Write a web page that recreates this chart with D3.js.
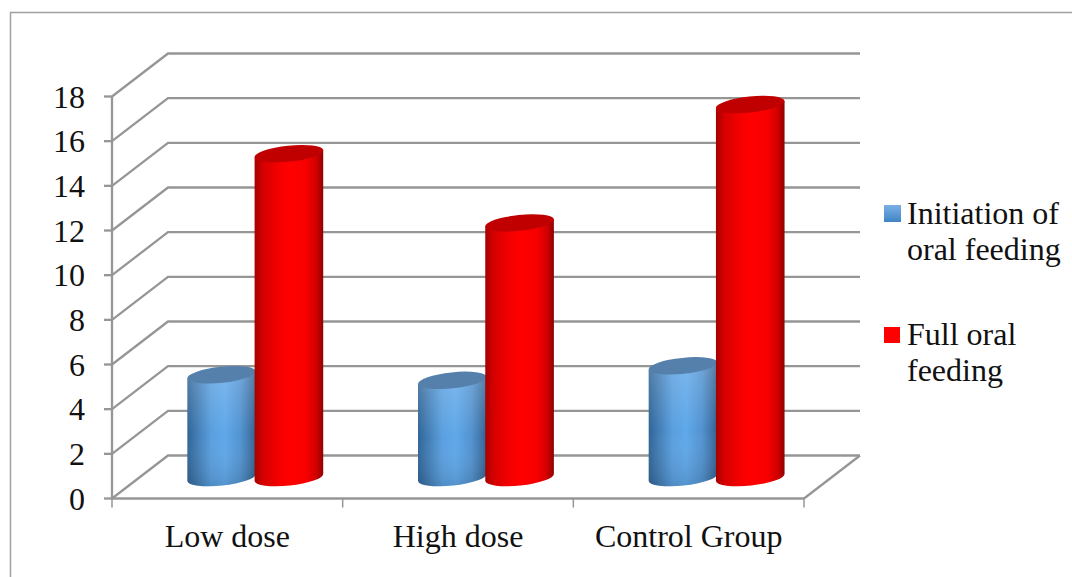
<!DOCTYPE html>
<html><head><meta charset="utf-8">
<script src="https://cdn.jsdelivr.net/npm/d3@7"></script>
<style>html,body{margin:0;padding:0;background:#fff}svg{display:block}text{font-family:"Liberation Serif",serif;fill:#111}</style>
</head><body><div id="chart"></div>
<script>
const categories = ["Low dose", "High dose", "Control Group"];
const seriesNames = ["Initiation of oral feeding", "Full oral feeding"];
const initiation = [4.6, 4.35, 5.0];
const fullOral = [14.5, 11.4, 16.7];
const yTicks = [0, 2, 4, 6, 8, 10, 12, 14, 16, 18];
const legendLines = [["Initiation of", "oral feeding"], ["Full oral", "feeding"]];

const W = 1072, H = 577;
const svg = d3.select("#chart").append("svg").attr("width", W).attr("height", H);
const defs = svg.append("defs");

function hGrad(id, stops) {
  const g = defs.append("linearGradient").attr("id", id).attr("x1", 0).attr("x2", 1).attr("y1", 0).attr("y2", 0);
  stops.forEach(s => g.append("stop").attr("offset", s[0]).attr("stop-color", s[1]).attr("stop-opacity", s[2] === undefined ? 1 : s[2]));
}
function vGrad(id, stops) {
  const g = defs.append("linearGradient").attr("id", id).attr("x1", 0).attr("x2", 0).attr("y1", 0).attr("y2", 1);
  stops.forEach(s => g.append("stop").attr("offset", s[0]).attr("stop-color", s[1]).attr("stop-opacity", s[2] === undefined ? 1 : s[2]));
}
hGrad("redSide", [[0, "#a50000"], [0.12, "#d40000"], [0.35, "#f40000"], [0.5, "#ff0000"], [0.75, "#f80000"], [0.9, "#d00000"], [1, "#8f0000"]]);
hGrad("blueSide", [[0, "#2f6496"], [0.12, "#3f79af"], [0.35, "#5a9fdf"], [0.55, "#5fa8ea"], [0.78, "#5292cf"], [0.92, "#3f74a8"], [1, "#33608c"]]);
vGrad("blueGloss", [[0, "#ffffff", 0.18], [0.55, "#ffffff", 0], [1, "#000000", 0.12]]);
vGrad("legendBlue", [[0, "#7cb0e6"], [1, "#3f84c6"]]);

const GRID = "#969696";
const left = 112, right = 804, depthX = 56, depthY = 43;
const y = d3.scaleLinear().domain([0, 18]).range([498.5, 96.5]);
const x0 = d3.scaleBand().domain(categories).range([left, right]);
const xs = d3.scaleBand().domain(seriesNames).range([-66.5, 68]);

// outer chart frame (open on the right and bottom)
svg.append("path").attr("d", "M10.5,577V12.5H1072").attr("fill", "none").attr("stroke", "#a0a0a0").attr("stroke-width", 1.5);

const grid = svg.append("g").attr("fill", "none").attr("stroke", GRID).attr("stroke-width", 2.3);
grid.selectAll("path.g").data(yTicks).join("path").attr("class", "g")
  .attr("d", v => `M${left},${y(v)}L${left + depthX},${y(v) - depthY}H${right + depthX}`);
// floor front-right edge
grid.append("path").attr("d", `M${right},${y(0)}L${right + depthX},${y(0) - depthY}`);
// front axes
grid.append("path").attr("d", `M${left},${y(18)}V${y(0)}H${right}`);
grid.selectAll("path.yt").data(yTicks).join("path").attr("class", "yt").attr("d", v => `M${left - 8},${y(v)}H${left}`);
const xTickPos = categories.map(c => x0(c)).concat([right]);
grid.selectAll("path.xt").data(xTickPos).join("path").attr("class", "xt").attr("stroke-width", 1.5).attr("d", p => `M${p},${y(0)}V${y(0) + 9}`);

// cylinders
const rx = 34.5, ry = 8, tilt = 6, baseShift = 21;
const cs = rx * Math.cos(tilt * Math.PI / 180), sn = rx * Math.sin(tilt * Math.PI / 180);
function drawCylinders(values, name, sideFill, topFill, gloss) {
  const g = svg.append("g");
  values.forEach((v, i) => {
    const cx = x0(categories[i]) + x0.bandwidth() / 2 + depthX / 2 - 0.8 + xs(name) + xs.bandwidth() / 2;
    const yb = y(0) - baseShift, yt = y(v) - baseShift;
    const d = `M${cx - cs},${yb + sn}L${cx - cs},${yt + sn}L${cx + cs},${yt - sn}L${cx + cs},${yb - sn}` +
      `A${rx},${ry} ${-tilt} 0 1 ${cx - cs},${yb + sn}Z`;
    g.append("path").attr("d", d).attr("fill", sideFill);
    if (gloss) g.append("path").attr("d", d).attr("fill", gloss);
    g.append("ellipse").attr("cx", cx).attr("cy", yt).attr("rx", rx).attr("ry", ry)
      .attr("transform", `rotate(${-tilt} ${cx} ${yt})`).attr("fill", topFill);
  });
}
drawCylinders(initiation, seriesNames[0], "url(#blueSide)", "#5580ab", "url(#blueGloss)");
drawCylinders(fullOral, seriesNames[1], "url(#redSide)", "#c00000", null);

// axis labels
const FS = 32;
svg.append("g").selectAll("text").data(yTicks).join("text")
  .attr("x", 85).attr("y", v => y(v) + 11).attr("text-anchor", "end").attr("font-size", FS).text(d => d);
svg.append("g").selectAll("text").data(categories).join("text")
  .attr("x", c => x0(c) + x0.bandwidth() / 2).attr("y", 547).attr("text-anchor", "middle").attr("font-size", FS).text(d => d);

// legend
const lg = svg.append("g");
lg.append("rect").attr("x", 884).attr("y", 205).attr("width", 17).attr("height", 17).attr("fill", "url(#legendBlue)");
lg.append("rect").attr("x", 884).attr("y", 327).attr("width", 16).attr("height", 16).attr("fill", "#ff0000");
const legendY = [[224, 260], [345, 381]];
legendLines.forEach((lines, i) => lines.forEach((t, j) => {
  lg.append("text").attr("x", 907).attr("y", legendY[i][j]).attr("font-size", FS).text(t);
}));
</script></body></html>
